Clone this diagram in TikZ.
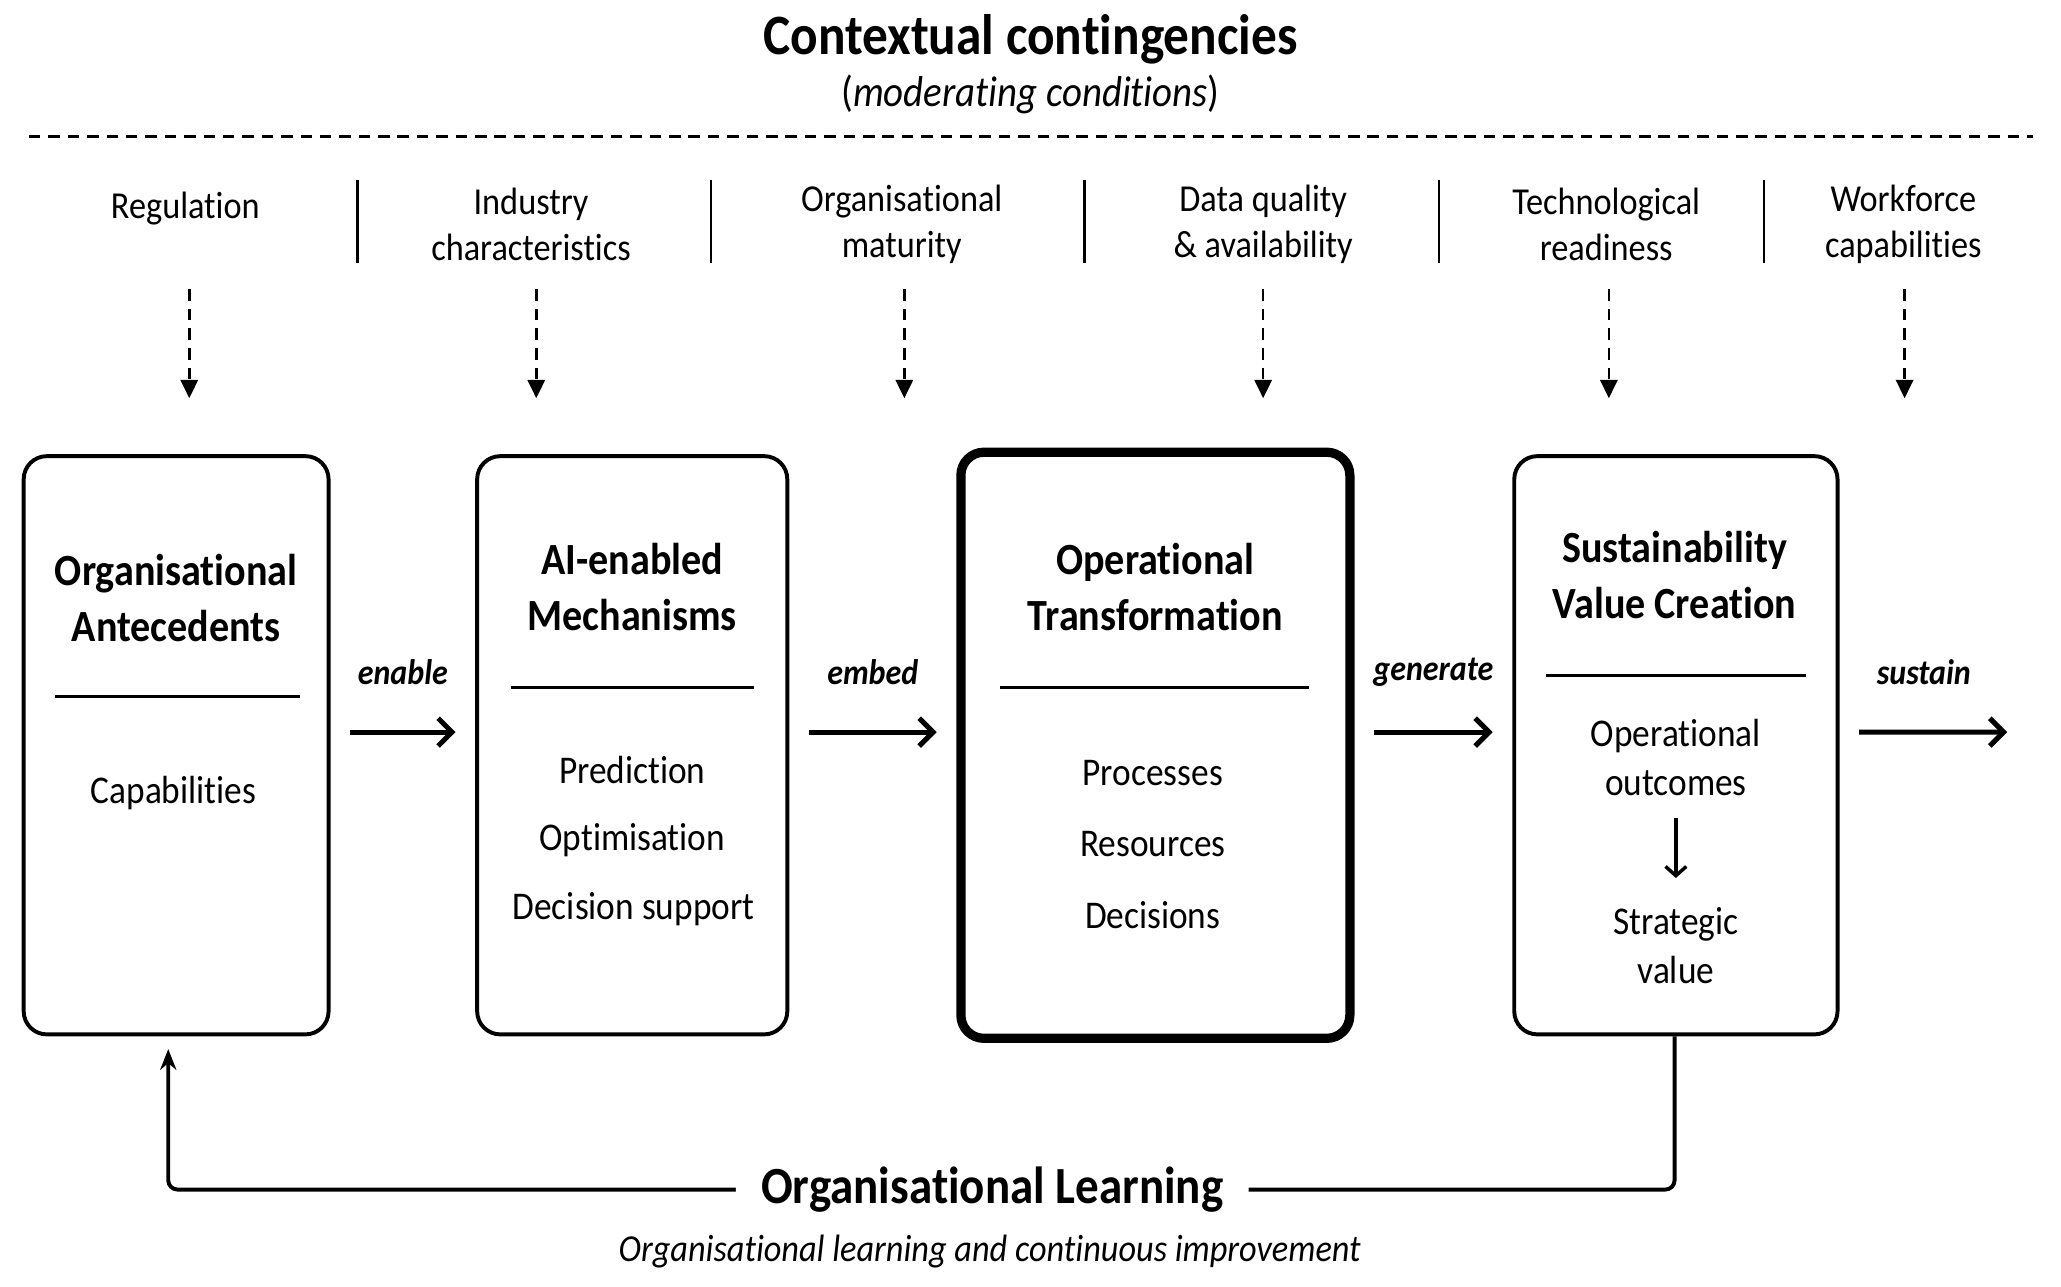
\documentclass[tikz,border=0pt]{standalone}
\usepackage{fontspec}
\setmainfont{Carlito}[FakeStretch=0.9, Ligatures=NoCommon]
\usetikzlibrary{arrows.meta}
\begin{document}
\begin{tikzpicture}[x=0.02cm,y=-0.02cm,
  box/.style={draw, line width=1.7pt, rounded corners=10pt, inner sep=0pt},
  thickbox/.style={draw, line width=4pt, rounded corners=10pt, inner sep=0pt},
  boxtitle/.style={font=\fontsize{19.3}{24}\selectfont\bfseries, align=center, inner sep=0pt},
  item/.style={font=\fontsize{17}{21}\selectfont, align=center, inner sep=0pt},
  cat/.style={font=\fontsize{16.5}{20}\selectfont, align=center, inner sep=0pt},
  verb/.style={font=\fontsize{15.4}{17}\selectfont\bfseries\itshape, inner sep=0pt},
  flow/.style={line width=2.2pt, shorten <=8.5pt, shorten >=8.5pt, -{Straight Barb[length=6pt,width=12pt,line width=2.2pt]}},
  dasharrow/.style={line width=1.1pt, dash pattern=on 5pt off 3.5pt, -{Triangle[length=8pt,width=7.5pt]}},
  sepline/.style={line width=1pt},
  rulebar/.style={line width=1.6pt},
  fb/.style={line width=1.7pt, rounded corners=4pt, -{Stealth[length=9pt,width=7pt]}}
]
\useasboundingbox (0,0) rectangle (1568,978.4);

% title
\node[font=\fontsize{24.7}{28}\selectfont\bfseries, inner sep=0pt] (title) at (784,30) {Contextual contingencies};
\node[font=\fontsize{18.7}{22}\selectfont, inner sep=0pt] (subtitle) at (784,72) {(\textit{moderating conditions})};
\draw[line width=1.4pt, dash pattern=on 5pt off 3.4pt] (22,104) -- (1547,104);

% contingencies
\node[cat] (c1) at (141,159) {Regulation};
\node[cat] (c2) at (404,170.5) {Industry\\characteristics};
\node[cat] (c3) at (686,170.5) {Organisational\\maturity};
\node[cat] (c4) at (961,170.5) {Data quality\\\&{} availability};
\node[cat] (c5) at (1222,170.5) {Technological\\readiness};
\node[cat] (c6) at (1448,170.5) {Workforce\\capabilities};
\foreach \x in {272,541,825,1095,1342} \draw[sepline] (\x,137) -- (\x,200);

\foreach \x [count=\i] in {144,408,688,961,1224,1449} {
  \coordinate (t\i) at (\x,220);
  \coordinate (h\i) at (\x,303);
  \draw[dasharrow] (t\i) -- (h\i);
}

% boxes
\node[box, minimum width=4.64cm, minimum height=8.8cm] (b1) at (134,567) {};
\node[box, minimum width=4.72cm, minimum height=8.8cm] (b2) at (481,567) {};
\node[thickbox, minimum width=5.92cm, minimum height=8.92cm] (b3) at (879,567) {};
\node[box, minimum width=4.92cm, minimum height=8.8cm] (b4) at (1275,567) {};

% box 1
\node[boxtitle] (b1t) at (134,455) {Organisational\\Antecedents};
\draw[rulebar] (42,530) -- (228,530);
\node[item] (b1a) at (132,603) {Capabilities};

% box 2
\node[boxtitle] (b2t) at (481,446.5) {AI-enabled\\Mechanisms};
\draw[rulebar] (389,523) -- (574,523);
\node[item] (b2a) at (481,586) {Prediction};
\node[item] (b2b) at (481,639) {Optimisation};
\node[item] (b2c) at (482,692) {Decision support};

% box 3
\node[boxtitle] (b3t) at (879,446.5) {Operational\\Transformation};
\draw[rulebar] (761,523) -- (996,523);
\node[item] (b3a) at (877,588) {Processes};
\node[item] (b3b) at (877,642) {Resources};
\node[item] (b3c) at (877,696) {Decisions};

% box 4
\node[boxtitle] (b4t) at (1274,437.5) {Sustainability\\Value Creation};
\draw[rulebar] (1176,514) -- (1374,514);
\node[item] (b4a) at (1275,576.5) {Operational\\outcomes};
\node[item] (b4b) at (1275,719.5) {Strategic\\value};
\draw[line width=1.5pt, -{Straight Barb[length=4pt,width=9pt,line width=1.5pt]}] (1275,622) -- (1275,668);

% flow arrows
\draw[flow] ([yshift=5.7pt]b1.east) -- node[verb, midway, yshift=26pt] {enable} ([yshift=5.7pt]b2.west);
\draw[flow] ([yshift=5.7pt]b2.east) -- node[verb, midway, yshift=26pt] {embed} ([yshift=5.7pt]b3.west);
\draw[flow] ([yshift=5.7pt]b3.east) -- node[verb, midway, yshift=26pt] {generate} ([yshift=5.7pt]b4.west);
\coordinate (out) at (1542,557);
\draw[flow] ([yshift=5.7pt]b4.east) -- node[verb, pos=0.45, yshift=26pt] {sustain} (out);

% feedback loop
\coordinate (fbR) at (1274,905);
\coordinate (fbL) at (128,905);
\draw[fb, shorten >=5.5pt] (b4.south -| fbR) -- (fbR) -- node[pos=0.453, fill=white, inner xsep=11pt, inner ysep=2pt, font=\fontsize{22.6}{26}\selectfont\bfseries] (learn) {Organisational Learning} (fbL) -- (b1.south -| fbL);
\node[font=\fontsize{16.5}{19}\selectfont\itshape, inner sep=0pt] (caption) at (753,952) {Organisational learning and continuous improvement};
\end{tikzpicture}
\end{document}
